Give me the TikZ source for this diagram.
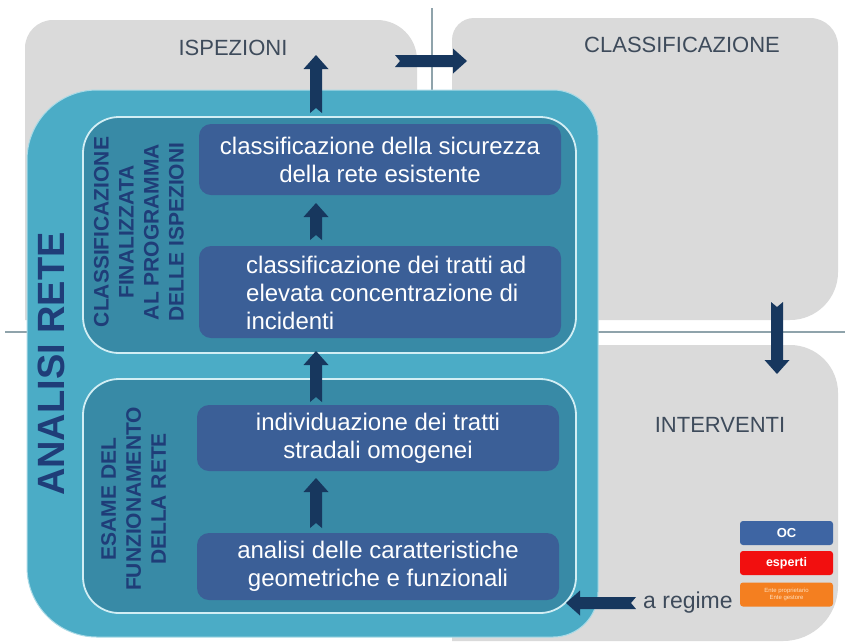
\documentclass[tikz,border=0pt]{standalone}
\usepackage{fontspec}
\setmainfont{Liberation Sans}
\usetikzlibrary{calc}
\definecolor{panelc}{HTML}{DADADA}
\definecolor{tealc}{HTML}{4BACC6}
\definecolor{innerc}{HTML}{388AA6}
\definecolor{boxc}{HTML}{3B5F97}
\definecolor{arrowc}{HTML}{17375E}
\definecolor{headc}{HTML}{3E4B5B}
\definecolor{navyc}{HTML}{1F3D78}
\definecolor{linec}{HTML}{8FA3AB}
\definecolor{edgec}{HTML}{D2EEF4}
\definecolor{ocblue}{HTML}{3E65A3}
\definecolor{redc}{HTML}{F20F0F}
\definecolor{orangec}{HTML}{F47F20}
\definecolor{orangetext}{HTML}{FFE0C0}
% rounded shape with four radii: style, x1,y1,x2,y2, r_tl, r_tr, r_br, r_bl
\newcommand\panelshape[9]{\path[#1] (#2,#3+#6) arc[start angle=180,end angle=270,radius=#6] -- (#4-#7,#3) arc[start angle=270,end angle=360,radius=#7] -- (#4,#5-#8) arc[start angle=0,end angle=90,radius=#8] -- (#2+#9,#5) arc[start angle=90,end angle=180,radius=#9] -- cycle;}
% notched block arrow from #1 (tail) to #2 (tip)
\newcommand\blockarrow[2]{%
  \path (#2) coordinate (bt) (#1) coordinate (bs);
  \path ($(bt)!14pt!(bs)$) coordinate (bh) ($(bs)!5pt!(bt)$) coordinate (bn);
  \fill[arrowc] ($(bs)!6pt!90:(bt)$) -- ($(bh)!6pt!-90:(bs)$) -- ($(bh)!12.5pt!-90:(bs)$) -- (bt) -- ($(bh)!12.5pt!90:(bs)$) -- ($(bh)!6pt!90:(bs)$) -- ($(bs)!6pt!-90:(bt)$) -- (bn) -- cycle;}
\begin{document}
\begin{tikzpicture}[x=1pt,y=-1pt,
  bbox/.style={fill=boxc, rounded corners=12pt, inner sep=0pt, outer sep=0pt, minimum width=362pt},
  ibox/.style={fill=innerc, draw=edgec, line width=1.8pt, rounded corners=36pt, inner sep=0pt, outer sep=0pt, minimum width=493pt, minimum height=235pt},
  btext/.style={text=white, font=\fontsize{24}{28}\selectfont, align=center, inner sep=0pt},
  vlab/.style={text=navyc, font=\bfseries\fontsize{21}{25}\selectfont, align=center, rotate=90, inner sep=0pt},
  headtext/.style={text=headc, font=\fontsize{22}{26}\selectfont, inner sep=0pt},
  leg/.style={rounded corners=3pt, minimum width=93pt, minimum height=24pt, inner sep=0pt, text=white}]
\useasboundingbox[fill=white] (0,0) rectangle (845,641);
% grey panels
\panelshape{fill=panelc}{25}{20}{417}{320}{28}{40}{0.1}{0.1}
\panelshape{fill=panelc}{452}{18}{838}{320}{22}{28}{48}{0.1}
\panelshape{fill=panelc}{452}{345}{838}{641}{0.1}{48}{55}{0.1}
% separating lines
\draw[linec, line width=1.2pt] (5,332) -- (845,332);
\draw[linec, line width=1.2pt] (432,8) -- (432,100);
% headings
\node[headtext] (isp) at (233,48) {ISPEZIONI};
\node[headtext] (cla) at (682,45) {CLASSIFICAZIONE};
\node[headtext] (int) at (720,425) {INTERVENTI};
% big teal block
\panelshape{fill=tealc, draw=edgec!70!tealc, line width=1pt}{27}{90}{598}{637}{70}{45}{45}{70}
\node[text=navyc, font=\bfseries\fontsize{38}{40}\selectfont, rotate=90, inner sep=0pt] (ar) at (51,364) {ANALISI RETE};
% inner containers
\node[ibox, minimum height=236pt] (box1) at (329.5,235) {};
\node[ibox, minimum height=234pt] (box2) at (329.5,496) {};
\node[vlab] (lab1) at (139,232) {CLASSIFICAZIONE\\FINALIZZATA\\AL PROGRAMMA\\DELLE ISPEZIONI};
\node[vlab] (lab2) at (133.5,499) {ESAME DEL\\FUNZIONAMENTO\\DELLA RETE};
% blue boxes
\node[bbox, minimum height=71pt] (b1) at (380,159.5) {};
\node[bbox, minimum height=92pt] (b2) at (380,292) {};
\node[bbox, minimum height=66pt] (b3) at (378,438) {};
\node[bbox, minimum height=67pt] (b4) at (378,566.5) {};
\node[btext] (t1) at (b1.center) {classificazione della sicurezza\\della rete esistente};
\node[btext, align=left, anchor=west] (t2) at ($(b2.west)+(47,1)$) {classificazione dei tratti ad\\elevata concentrazione di\\incidenti};
\node[btext] (t3) at (b3.center) {individuazione dei tratti\\stradali omogenei};
\node[btext] (t4) at (b4.center) {analisi delle caratteristiche\\geometriche e funzionali};
% arrows
\coordinate (ax) at (316,0);
\blockarrow{$(b2.north -| ax)+(0,-6)$}{$(b1.south -| ax)+(0,8)$}
\blockarrow{$(box2.north -| ax)+(0,23)$}{$(box1.south -| ax)+(0,-2)$}
\blockarrow{$(b4.north -| ax)+(0,-5)$}{$(b3.south -| ax)+(0,7)$}
\coordinate (dtip) at (316,55);
\blockarrow{$(box1.north -| ax)+(0,-4)$}{dtip}
\coordinate (etail) at (395,61);
\coordinate (etip) at (467,61);
\blockarrow{etail}{etip}
\coordinate (ftail) at (777,302);
\coordinate (ftip) at (777,374);
\blockarrow{ftail}{ftip}
% a regime
\node[text=headc, font=\fontsize{23}{26}\selectfont, inner sep=0pt, anchor=west] (reg) at (643,603) {a regime};
\coordinate (gtip) at (566,603);
\blockarrow{$(reg.west)+(-7,0)$}{gtip}
% legend
\node[leg, fill=ocblue, font=\bfseries\fontsize{13}{14}\selectfont] (oc) at (786.5,533) {OC};
\node[leg, fill=redc, font=\bfseries\fontsize{12.5}{14}\selectfont] (esp) at (786.5,563) {esperti};
\node[leg, fill=orangec, text=orangetext, align=center, font=\fontsize{6}{7}\selectfont] (ente) at (786.5,594.5) {Ente proprietario\\Ente gestore};
\end{tikzpicture}
\end{document}
